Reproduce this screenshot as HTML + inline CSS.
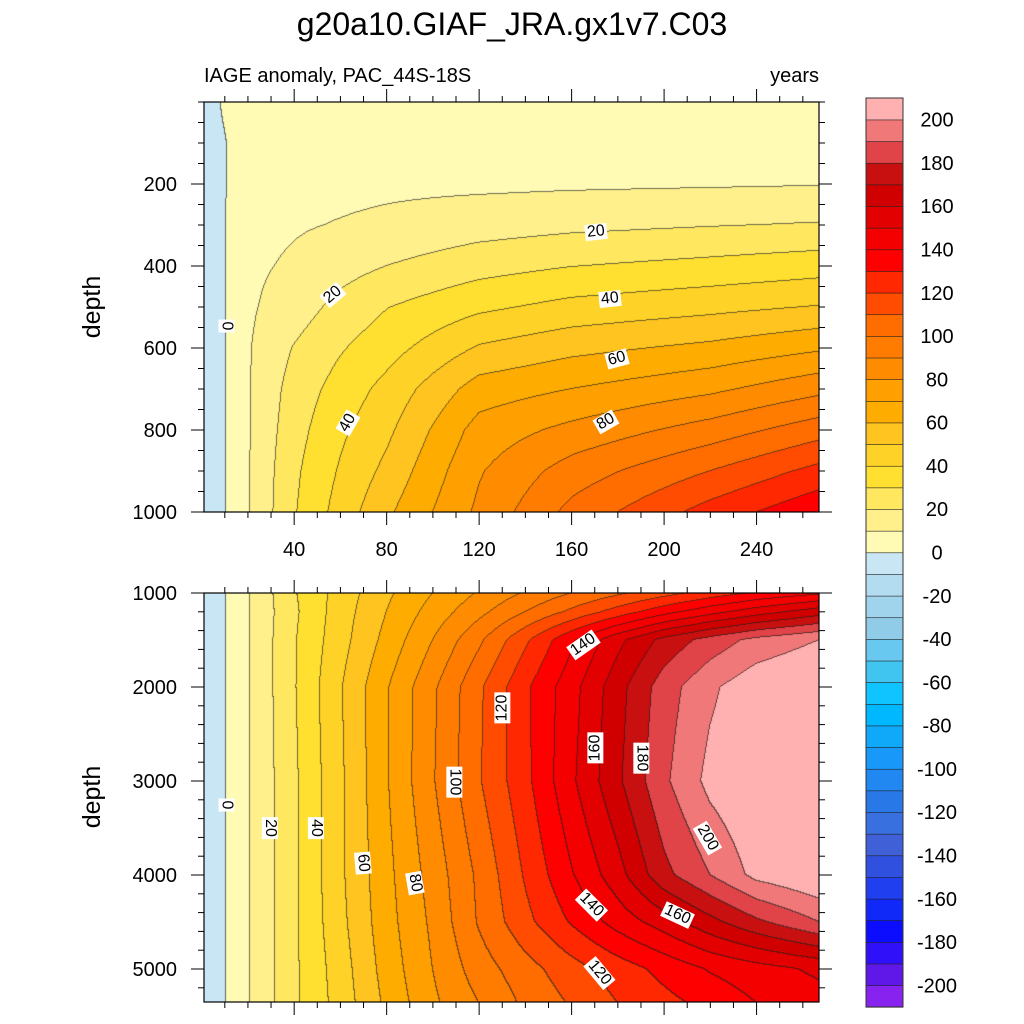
<!DOCTYPE html>
<html><head><meta charset="utf-8">
<style>
html,body{margin:0;padding:0;background:#fff;}
#root{position:relative;width:1024px;height:1024px;overflow:hidden;font-family:"Liberation Sans",sans-serif;}
canvas{position:absolute;}
svg{position:absolute;left:0;top:0;}
.cl{position:absolute;background:#fff;font-size:16px;line-height:16px;padding:0 2px;transform-origin:center center;white-space:nowrap;color:#000;}
</style></head><body>
<div id="root">
<canvas id="cTop" width="615" height="410" style="left:204px;top:102px"></canvas>
<canvas id="cBot" width="615" height="409" style="left:204px;top:593px"></canvas>
<svg id="ov" width="1024" height="1024">
<text x="512" y="35" font-size="32" text-anchor="middle" font-family="Liberation Sans">g20a10.GIAF_JRA.gx1v7.C03</text>
<text x="204" y="82" font-size="20" font-family="Liberation Sans">IAGE anomaly, PAC_44S-18S</text>
<text x="819" y="82" font-size="20" text-anchor="end" font-family="Liberation Sans">years</text>
<text transform="translate(100,307) rotate(-90)" font-size="25" text-anchor="middle" font-family="Liberation Sans">depth</text>
<text transform="translate(100,797) rotate(-90)" font-size="25" text-anchor="middle" font-family="Liberation Sans">depth</text>
</svg>
<div class="cl" style="left:220px;top:318px;transform:rotate(90deg)">0</div>
<div class="cl" style="left:322px;top:287px;transform:rotate(-40deg)">20</div>
<div class="cl" style="left:585px;top:224px;transform:rotate(-6deg)">20</div>
<div class="cl" style="left:599px;top:291px;transform:rotate(-6deg)">40</div>
<div class="cl" style="left:606px;top:351px;transform:rotate(-15deg)">60</div>
<div class="cl" style="left:595px;top:414px;transform:rotate(-30deg)">80</div>
<div class="cl" style="left:337px;top:415px;transform:rotate(-60deg)">40</div>
<div class="cl" style="left:220px;top:797px;transform:rotate(90deg)">0</div>
<div class="cl" style="left:259px;top:820px;transform:rotate(90deg)">20</div>
<div class="cl" style="left:305px;top:820px;transform:rotate(90deg)">40</div>
<div class="cl" style="left:352px;top:855px;transform:rotate(85deg)">60</div>
<div class="cl" style="left:404px;top:875px;transform:rotate(80deg)">80</div>
<div class="cl" style="left:439px;top:774px;transform:rotate(90deg)">100</div>
<div class="cl" style="left:487px;top:700px;transform:rotate(-90deg)">120</div>
<div class="cl" style="left:568px;top:637px;transform:rotate(-35deg)">140</div>
<div class="cl" style="left:580px;top:740px;transform:rotate(-90deg)">160</div>
<div class="cl" style="left:626px;top:750px;transform:rotate(90deg)">180</div>
<div class="cl" style="left:692px;top:830px;transform:rotate(60deg)">200</div>
<div class="cl" style="left:576px;top:897px;transform:rotate(45deg)">140</div>
<div class="cl" style="left:662px;top:907px;transform:rotate(25deg)">160</div>
<div class="cl" style="left:584px;top:965px;transform:rotate(50deg)">120</div>
</div>
<script>
// ---- data ----
const levels = [-200,-190,-180,-170,-160,-150,-140,-130,-120,-110,-100,-90,-80,-70,-60,-50,-40,-30,-20,-10,0,10,20,30,40,50,60,70,80,90,100,110,120,130,140,150,160,170,180,190,200];
const fillColors = ["#8822ee","#6018e8","#3010f8","#0c0cff","#1028f8","#2040f0","#3050e0","#4060d8","#3870e0","#2878e8","#2088f0","#1898f8","#10a8f8","#00b8ff","#10c4ff","#40c4f0","#68c8f0","#90cce8","#a0d4ec","#b4dcf0","#c8e6f4","#fffab4","#fff08c","#ffe860","#ffe030","#ffd228","#ffc420","#ffac00","#ffa000","#ff8c00","#ff7c00","#ff6c00","#ff4c00","#ff2800","#ff0000","#f40000","#e20000","#d00000","#c81010","#e04448","#f07878","#ffb0b0"];
const cbLabels = [200,180,160,140,120,100,80,60,40,20,0,-20,-40,-60,-80,-100,-120,-140,-160,-180,-200];
const xTicks = [40,80,120,160,200,240];
const topDepthTicks = [200,400,600,800,1000];
const botDepthTicks = [1000,2000,3000,4000,5000];

const topYears = [1,10,20,40,60,80,120,160,220,267];
const topDepths = [0,100,200,300,400,500,600,700,800,900,1000];
const topRow0    = [-4,1,5,6,6,6,6,6,7,7];
const topRow100  = [-3,-0.5,5,7,7,7,7,7,8,8];
const topRow200  = [-3,-0.5,6,7.5,7.5,8,8,8.5,9,9.5];
const topRow300  = [-3,-0.5,7,9,10.5,12,15.5,17.5,19.4,20.7];
const topRow400  = [-3,-0.5,8,11.5,16,20,26,29.7,32.8,35.5];
const topRow500  = [-3,-0.5,8.5,15,23,29.6,37.8,43,47,50.5];
const topRow600  = [-3,-0.5,9,20.5,29,36,51,57,62.3,68.4];
const topRow700  = [-3,-0.5,9,24,34,43,64.5,70,77.7,87];
const topRow800  = [-3,-0.5,9,26,38,47.6,74,82.6,94.3,105.5];
const topRow900  = [-3,-0.5,9,28,41,52.5,79,94.5,110,123];
const topRow1000 = [-3,-0.5,9,29,44,58,82,103,124,138];
const topGrid = [topRow0,topRow100,topRow200,topRow300,topRow400,topRow500,topRow600,topRow700,topRow800,topRow900,topRow1000];

const botYears = [1,10,20,40,60,80,100,120,140,160,180,200,220,240,267];
const botDepths = [1000,1200,1500,2000,3000,4000,4500,5000,5362];
const botRow1000 = [-3,-0.5,9,29,44,58,70,81,91,100,108,116,124,131,138];
const botRow1200 = [-3,-0.5,9,28,45,60,74,87,100,112,124,136,146,155,165];
const botRow1500 = [-3,-0.5,9,29,46,63,80,98,118,138,157,173,184,193,200];
const botRow2000 = [-3,-0.5,9,29,49,69,88,108,128,146,166,185,198,207,212];
const botRow3000 = [-3,-0.5,9,28,48,69,89,109,127,148,168,188,203,210,215];
const botRow4000 = [-3,-0.5,9,28,48,67,84,102,121,139,156,177,190,203,210];
const botRow4500 = [-3,-0.5,9,28,47,66,82,101,117,131,144,155,167,178,190];
const botRow5000 = [-3,-0.5,9,28,45,64,80,95,106,116,125,133,141,146,152];
const botRow5362 = [-3,-0.5,9,28,44,62,78,90,102,111,120,127,133,140,146];
const botGrid = [botRow1000,botRow1200,botRow1500,botRow2000,botRow3000,botRow4000,botRow4500,botRow5000,botRow5362];

// ---- scales ----
const X0=204, X1=819, YR0=1, YR1=267;
const xScale = yr => X0 + (yr-YR0)*(X1-X0)/(YR1-YR0);
const xInv = x => YR0 + (x-X0)*(YR1-YR0)/(X1-X0);
const topY = d => 102 + d*0.41;
const topYInv = y => (y-102)/0.41;
const botY = d => 593 + (d-1000)*0.094;
const botYInv = y => 1000 + (y-593)/0.094;

function seg(arr,v){
  let i=0; while(i<arr.length-2 && v>arr[i+1]) i++;
  let t=(v-arr[i])/(arr[i+1]-arr[i]); t=Math.max(0,Math.min(1,t));
  return [i,t];
}
function interp(cols,rows,grid,yr,d){
  const [i,tx]=seg(cols,yr); const [j,ty]=seg(rows,d);
  const a=grid[j][i],b=grid[j][i+1],c=grid[j+1][i],e=grid[j+1][i+1];
  return (a*(1-tx)+b*tx)*(1-ty)+(c*(1-tx)+e*tx)*ty;
}
function levelIndex(v){let k=0; while(k<levels.length && v>=levels[k]) k++; return k;}
function hex(h){return [parseInt(h.substr(1,2),16),parseInt(h.substr(3,2),16),parseInt(h.substr(5,2),16)];}
const rgb = fillColors.map(hex);

function drawPanel(id,top,yInv,cols,rows,grid){
  const cv=document.getElementById(id), ctx=cv.getContext('2d');
  const W=cv.width,H=cv.height, img=ctx.createImageData(W,H);
  const idx=new Int16Array(W*H);
  for(let py=0;py<H;py++){const d=yInv(top+py+0.5);
    for(let px=0;px<W;px++){const yr=xInv(X0+px+0.5);
      idx[py*W+px]=levelIndex(interp(cols,rows,grid,yr,d));}}
  for(let p=0;p<W*H;p++){
    const px=p%W, py=(p/W)|0; let c=rgb[idx[p]];
    let edge=(px<W-1&&idx[p]!==idx[p+1])||(py<H-1&&idx[p]!==idx[p+W]);
    const o=p*4;
    if(edge){img.data[o]=c[0]*0.35+20;img.data[o+1]=c[1]*0.35+20;img.data[o+2]=c[2]*0.35+20;}
    else{img.data[o]=c[0];img.data[o+1]=c[1];img.data[o+2]=c[2];}
    img.data[o+3]=255;
  }
  ctx.putImageData(img,0,0);
}
drawPanel('cTop',102,topYInv,topYears,topDepths,topGrid);
drawPanel('cBot',593,botYInv,botYears,botDepths,botGrid);

// ---- axes ----
const NS='http://www.w3.org/2000/svg', ov=document.getElementById('ov');
function mk(tag,attrs){const e=document.createElementNS(NS,tag);for(const k in attrs)e.setAttribute(k,attrs[k]);ov.appendChild(e);return e;}
function line(x1,y1,x2,y2,nm){const e=mk('line',{x1,y1,x2,y2,stroke:'#000','stroke-width':1});
  
  }
function txt(x,y,s,anchor,nm){const e=mk('text',{x,y,'font-size':20,'text-anchor':anchor,'font-family':'Liberation Sans'});e.textContent=s;
  
  }
function panelAxes(yTop,yBot,yf,dMin,dMax,minorStep,majorTicks,showX,tag){
  const r=mk('rect',{x:X0,y:yTop,width:X1-X0,height:yBot-yTop,fill:'none',stroke:'#000','stroke-width':1.2});
  
  
  for(let yr=10;yr<=YR1;yr+=10){const x=xScale(yr), maj=yr%40===0, L=maj?13:6;
    line(x,yTop,x,yTop-L,tag+'-x-tick'); line(x,yBot,x,yBot+L,tag+'-x-tick');}
  for(let d=Math.ceil(dMin/minorStep)*minorStep; d<=dMax; d+=minorStep){const y=yf(d), maj=majorTicks.indexOf(d)>=0, L=maj?13:6;
    line(X0,y,X0-L,y,tag+'-y-tick'); line(X1,y,X1+L,y,tag+'-y-tick');}
  majorTicks.forEach(d=>txt(177,yf(d)+7,String(d),'end',tag+'-y-tick-label'));
  if(showX) xTicks.forEach(t=>txt(xScale(t),yBot+44,String(t),'middle',tag+'-x-tick-label'));
}
panelAxes(102,512,topY,0,1000,50,topDepthTicks,true,'upper');
panelAxes(593,1002,botY,1000,5362,200,botDepthTicks,false,'lower');

// ---- colorbar ----
const CB0=98, CB1=1007, CBX=866, CBW=37, n=fillColors.length, bh=(CB1-CB0)/n;
for(let k=0;k<n;k++){
  const y=CB1-(k+1)*bh;
  const r=mk('rect',{x:CBX,y:y,width:CBW,height:bh+0.3,fill:fillColors[k],stroke:'#222','stroke-width':0.6});
  
  
}
const cbf=mk('rect',{x:CBX,y:CB0,width:CBW,height:CB1-CB0,fill:'none',stroke:'#333','stroke-width':1});


cbLabels.forEach(v=>{const k=levels.indexOf(v); const y=CB1-(k+1)*bh; txt(937,y+7,String(v),'middle','colorbar-label');});
</script>
</body></html>
